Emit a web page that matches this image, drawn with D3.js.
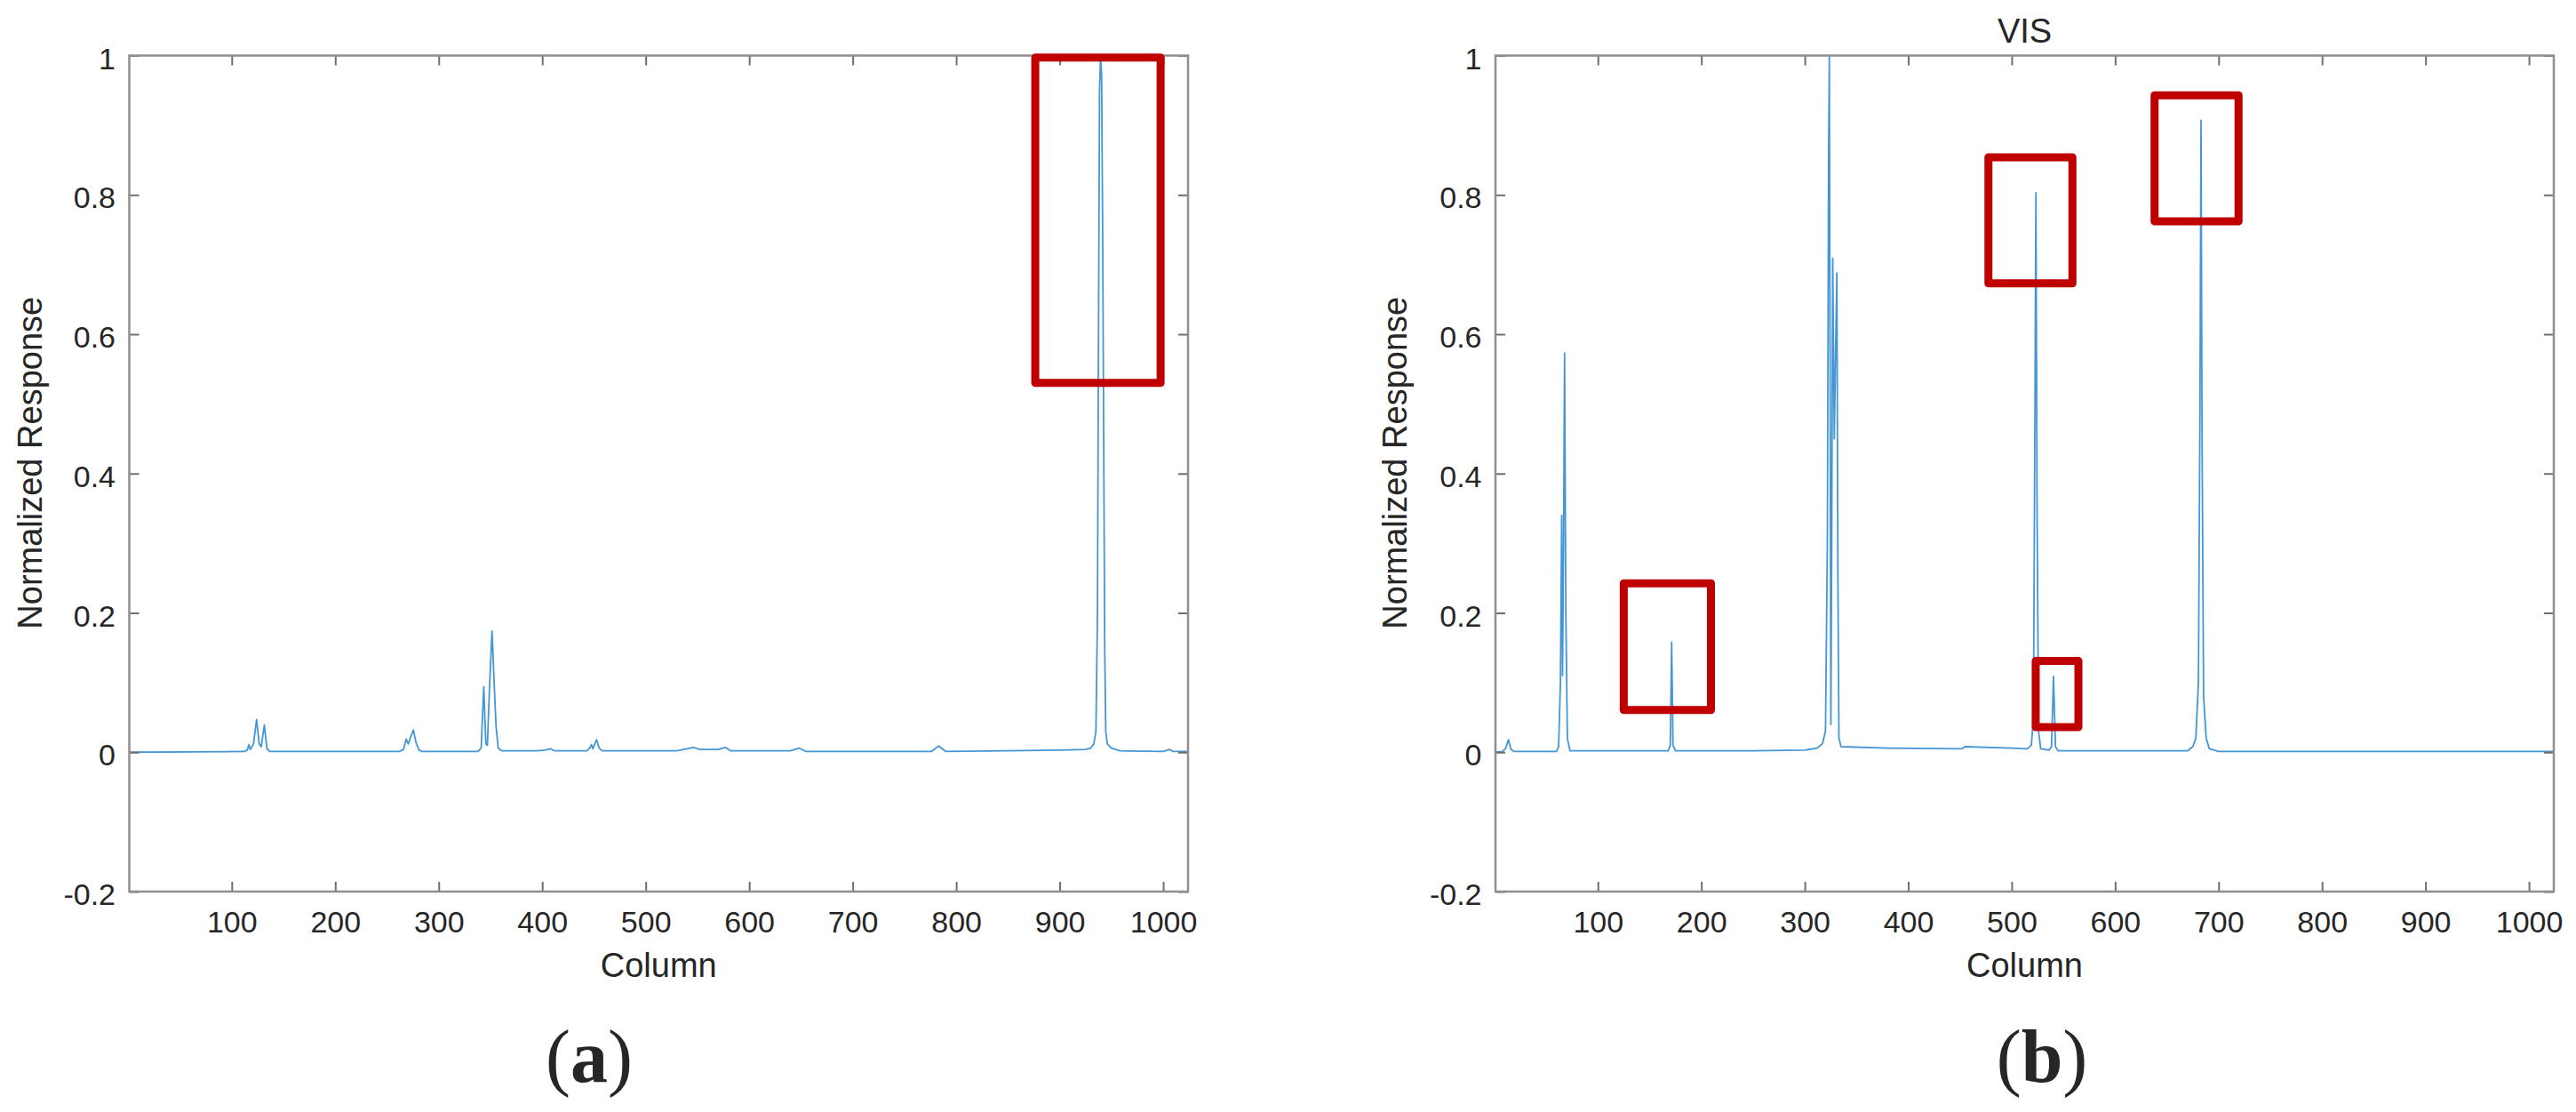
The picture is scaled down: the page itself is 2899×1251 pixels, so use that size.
<!DOCTYPE html>
<html>
<head>
<meta charset="utf-8">
<script src="https://cdn.jsdelivr.net/npm/d3@7"></script>
<style>
  html, body { margin: 0; padding: 0; background: #ffffff; }
  svg { display: block; }
  text { font-family: "Liberation Sans", Arial, Helvetica, sans-serif; fill: #262626; }
</style>
</head>
<body>
<svg id="chart" width="2899" height="1251"></svg>
<script>
// ---------------- DATA ----------------
// Panel (a): spectrum polyline vertices (column, normalized response)
const colsA = [1, 60, 112, 115, 116.5, 118, 121, 124, 126.5, 128.5, 131.5, 134, 137, 200, 262, 266, 268.5, 270.5, 273, 275.5, 278, 281, 284,
  338, 341, 343.5, 345.5, 347, 349, 351.5, 353, 354.3, 355.5, 357.5, 361, 395, 403, 408, 412, 443, 446, 447.5, 449, 452.5, 455, 458,
  500, 530, 540, 546, 552, 570, 577, 582, 640, 648, 655, 700, 776, 783, 790, 850, 900, 925, 930, 933, 935, 936.5, 937.5, 938.5,
  939.5, 940.5, 941.5, 942.5, 943.5, 944.5, 946, 950, 958, 1000, 1006, 1010, 1024];
const valsA = [0, 0.0005, 0.001, 0.003, 0.011, 0.004, 0.012, 0.047, 0.012, 0.008, 0.039, 0.005, 0.001, 0.001, 0.001, 0.004, 0.019, 0.012, 0.022, 0.032, 0.014, 0.003, 0.001,
  0.001, 0.006, 0.094, 0.012, 0.01, 0.09, 0.174, 0.12, 0.072, 0.035, 0.006, 0.002, 0.002, 0.003, 0.005, 0.002, 0.002, 0.006, 0.011, 0.005, 0.018, 0.006, 0.002,
  0.002, 0.002, 0.005, 0.007, 0.004, 0.004, 0.007, 0.002, 0.002, 0.006, 0.001, 0.001, 0.001, 0.009, 0.001, 0.002, 0.003, 0.004, 0.006, 0.012, 0.03, 0.2, 0.6, 0.95,
  1.0, 0.97, 0.75, 0.45, 0.15, 0.03, 0.012, 0.006, 0.002, 0.001, 0.004, 0.001, 0.001];

// Panel (b) "VIS": spectrum polyline vertices
const colsB = [1, 8, 11, 13.5, 16, 19, 60, 62, 63.8, 65, 65.8, 66.8, 67.8, 69, 70.5, 73, 168, 170, 171.3, 172.6, 175, 250, 300, 312, 317, 320,
  321.8, 323, 323.7, 324.4, 325.2, 326, 327, 328.5, 329.5, 331, 332, 333, 335, 380, 452, 455, 500, 515, 519, 521, 522.5, 523.4, 524.5, 526, 528,
  536, 538.5, 540.4, 542.3, 545, 600, 670, 675, 678, 680.5, 682, 683, 684, 685.5, 688, 691, 700, 1024];
const valsB = [0, 0.001, 0.006, 0.018, 0.004, 0.001, 0.001, 0.008, 0.1, 0.34, 0.11, 0.3, 0.573, 0.2, 0.02, 0.002, 0.002, 0.01, 0.158, 0.01, 0.002, 0.002, 0.003, 0.006, 0.012, 0.03,
  0.3, 0.85, 1.0, 0.6, 0.04, 0.3, 0.709, 0.45, 0.55, 0.688, 0.25, 0.02, 0.008, 0.006, 0.005, 0.008, 0.006, 0.005, 0.01, 0.05, 0.5, 0.803, 0.35, 0.03, 0.005,
  0.003, 0.008, 0.109, 0.008, 0.002, 0.002, 0.002, 0.008, 0.02, 0.1, 0.5, 0.907, 0.45, 0.08, 0.02, 0.005, 0.001, 0.001];

// Highlight boxes (in data units): [colStart, colEnd, valueLow, valueHigh]
const boxesA = [[876.4, 997.5, 0.530, 0.997]];
const boxesB = [[125.0, 209.3, 0.0605, 0.2425], [477.5, 558.7, 0.673, 0.854], [523.2, 564.5, 0.036, 0.131], [638.1, 719.3, 0.762, 0.943]];

// Axes
const xDomain = [1, 1024];
const yDomain = [-0.2, 1];
const xTicks = [100, 200, 300, 400, 500, 600, 700, 800, 900, 1000];
const xTickLabels = ["100", "200", "300", "400", "500", "600", "700", "800", "900", "1000"];
const yTicks = [-0.2, 0, 0.2, 0.4, 0.6, 0.8, 1];
const yTickLabels = ["-0.2", "0", "0.2", "0.4", "0.6", "0.8", "1"];

const xLabel = "Column";
const yLabel = "Normalized Response";
const titles = ["", "VIS"];
const panelTags = ["a", "b"];

// ---------------- LAYOUT ----------------
const svg = d3.select("#chart");
svg.append("rect").attr("width", 2899).attr("height", 1251).attr("fill", "#ffffff");

const plotTop = 62.5, plotBottom = 1003;
const panels = [
  { left: 145.5, right: 1337, cols: colsA, vals: valsA, boxes: boxesA, title: titles[0], tag: panelTags[0], tagX: 663, ylabX: 47 },
  { left: 1683, right: 2874, cols: colsB, vals: valsB, boxes: boxesB, title: titles[1], tag: panelTags[1], tagX: 2298, ylabX: 1583 }
];

const tickFont = 34, labelFont = 38;

panels.forEach((p, pi) => {
  const x = d3.scaleLinear().domain(xDomain).range([p.left, p.right]);
  const y = d3.scaleLinear().domain(yDomain).range([plotBottom, plotTop]);
  const g = svg.append("g");

  const clipId = "clip" + pi;
  svg.append("defs").append("clipPath").attr("id", clipId)
    .append("rect").attr("x", p.left).attr("y", plotTop - 1)
    .attr("width", p.right - p.left).attr("height", plotBottom - plotTop + 1);

  // data line
  const pts = p.cols.map((c, i) => [c, p.vals[i]]);
  g.append("path")
    .datum(pts)
    .attr("clip-path", `url(#${clipId})`)
    .attr("fill", "none")
    .attr("stroke", "#4596d4")
    .attr("stroke-width", 1.8)
    .attr("stroke-linejoin", "round")
    .attr("d", d3.line().x(d => x(d[0])).y(d => y(d[1])));

  // axes (ticks inward on all four sides)
  const axB = g.append("g").attr("transform", `translate(0,${plotBottom})`)
    .call(d3.axisBottom(x).tickValues(xTicks).tickFormat((d, i) => xTickLabels[i])
      .tickSizeInner(-11).tickSizeOuter(0).tickPadding(22));
  const axT = g.append("g").attr("transform", `translate(0,${plotTop})`)
    .call(d3.axisTop(x).tickValues(xTicks).tickFormat("").tickSizeInner(-11).tickSizeOuter(0));
  const axL = g.append("g").attr("transform", `translate(${p.left},0)`)
    .call(d3.axisLeft(y).tickValues(yTicks).tickFormat((d, i) => yTickLabels[i])
      .tickSizeInner(-11).tickSizeOuter(0).tickPadding(15.5));
  const axR = g.append("g").attr("transform", `translate(${p.right},0)`)
    .call(d3.axisRight(y).tickValues(yTicks).tickFormat("").tickSizeInner(-11).tickSizeOuter(0));

  [axB, axT, axL, axR].forEach(a => {
    a.select(".domain").remove();
    a.selectAll(".tick line").attr("stroke", "#6e6e6e").attr("stroke-width", 2);
    a.selectAll(".tick text").attr("font-size", tickFont).attr("fill", "#262626")
      .attr("font-family", '"Liberation Sans", Arial, Helvetica, sans-serif');
  });
  axL.selectAll(".tick text").attr("dy", "0.43em");

  // box
  g.append("rect")
    .attr("x", p.left).attr("y", plotTop)
    .attr("width", p.right - p.left).attr("height", plotBottom - plotTop)
    .attr("fill", "none").attr("stroke", "#8f8f8f").attr("stroke-width", 2.5);

  // highlight boxes
  g.selectAll("rect.hl").data(p.boxes).enter().append("rect")
    .attr("class", "hl")
    .attr("x", d => x(d[0])).attr("y", d => y(d[3]))
    .attr("width", d => x(d[1]) - x(d[0])).attr("height", d => y(d[2]) - y(d[3]))
    .attr("fill", "none").attr("stroke", "#c00000").attr("stroke-width", 9)
    .attr("stroke-linejoin", "round");

  // labels
  g.append("text").attr("x", (p.left + p.right) / 2).attr("y", 1099)
    .attr("text-anchor", "middle").attr("font-size", labelFont).text(xLabel);
  g.append("text")
    .attr("transform", `translate(${p.ylabX},${(plotTop + plotBottom) / 2 - 12}) rotate(-90)`)
    .attr("text-anchor", "middle").attr("font-size", labelFont).text(yLabel);
  if (p.title) {
    g.append("text").attr("x", (p.left + p.right) / 2).attr("y", 48)
      .attr("text-anchor", "middle").attr("font-size", labelFont).text(p.title);
  }

  // panel tag (a)/(b)
  const t = svg.append("text").attr("x", p.tagX).attr("y", 1217)
    .attr("text-anchor", "middle").attr("font-size", 84)
    .style("font-family", '"Liberation Serif", "Times New Roman", serif').attr("fill", "#000");
  t.append("tspan").text("(");
  t.append("tspan").attr("font-weight", "bold").text(p.tag);
  t.append("tspan").text(")");
});
</script>
</body>
</html>
